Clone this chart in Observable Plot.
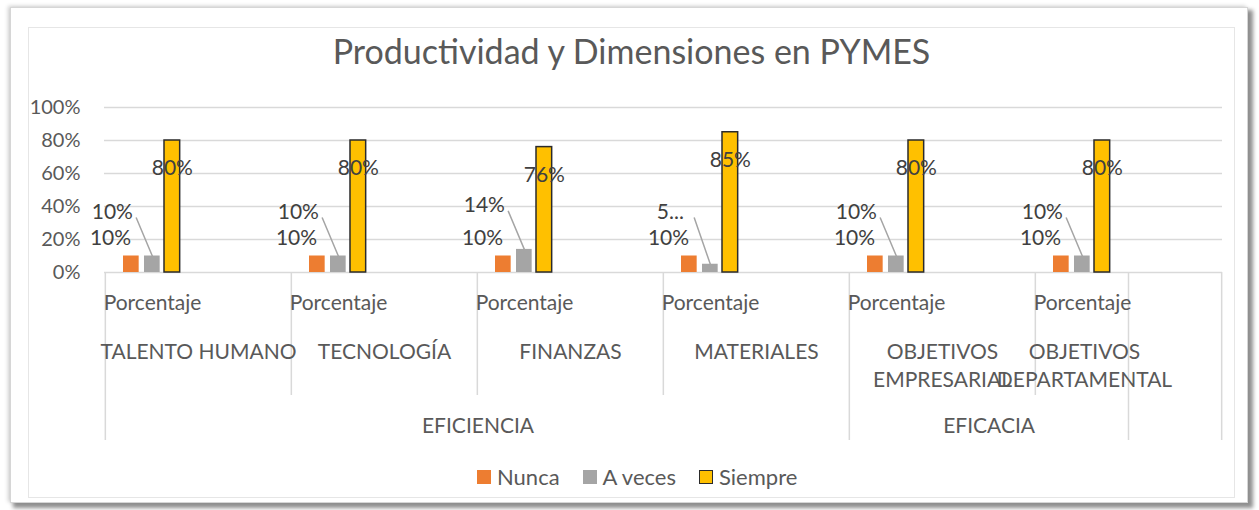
<!DOCTYPE html>
<html><head><meta charset="utf-8">
<script src="https://cdn.jsdelivr.net/npm/d3@7"></script>
<script src="https://cdn.jsdelivr.net/npm/@observablehq/plot@0.6"></script>
<style>
body{margin:0;background:#fff;font-family:Lato,"Open Sans",sans-serif;}
#wrap{position:relative;width:1259px;height:510px;overflow:hidden;background:#fff;}
#outer{position:absolute;left:10px;top:7px;width:1236px;height:494px;border:1px solid #d6d6d6;box-shadow:4px 4px 4px 1px #8f8f8f, -2px -1px 4px #d0d0d0;background:#fff;}
#inner{position:absolute;left:28px;top:27px;width:1205px;height:469px;border:1px solid #e6e6e6;}
#title{position:absolute;top:29px;left:0;width:1263px;text-align:center;font-size:34px;line-height:44px;color:#595959;font-weight:400;}
#chart{position:absolute;top:90px;left:0;}
#legend{position:absolute;top:464px;left:477px;display:flex;align-items:center;font-size:22px;line-height:26px;color:#595959;}
.item{display:flex;align-items:center;margin-right:23px;}
.sw{width:14px;height:14px;margin-right:6px;box-sizing:border-box;}
</style></head>
<body><div id="wrap"><div id="outer"></div><div id="inner"></div><div id="title"></div><div id="chart"></div><div id="legend"></div></div>
<script>
// ---- data ----
const title = "Productividad y Dimensiones en PYMES";
const categories = ["TALENTO HUMANO","TECNOLOGÍA","FINANZAS","MATERIALES","OBJETIVOS EMPRESARIAL","OBJETIVOS DEPARTAMENTAL"];
const categoryLabels = ["TALENTO HUMANO","TECNOLOGÍA","FINANZAS","MATERIALES","OBJETIVOS\nEMPRESARIAL","OBJETIVOS\nDEPARTAMENTAL"];
const dimensions = ["EFICIENCIA","EFICIENCIA","EFICIENCIA","EFICIENCIA","EFICACIA","EFICACIA"];
const subLabel = "Porcentaje";
const series = ["Nunca","A veces","Siempre"];
const nunca   = [0.10,0.10,0.10,0.10,0.10,0.10];
const aVeces  = [0.10,0.10,0.14,0.05,0.10,0.10];
const siempre = [0.80,0.80,0.76,0.85,0.80,0.80];
const aVecesLabels = ["10%","10%","14%","5...","10%","10%"];
const yTicks = [0,0.2,0.4,0.6,0.8,1.0];

// ---- styles ----
const colors = {"Nunca":"#ED7D31","A veces":"#A5A5A5","Siempre":"#FFC000"};
const strokes = {"Nunca":null,"A veces":null,"Siempre":"#2b2b2b"};
const W = 1259, H = 365, mL = 104, mR = 37, mT = 17, mB = 183;
const bw = (W - mL - mR) / categories.length;
const ky = H - mT - mB; // pixels per unit of y
const barLeft = {"Nunca":18,"A veces":39,"Siempre":59}, barW = 16;
const centerOff = s => barLeft[s] + barW/2 - bw/2;
const fmt = d3.format(".0%");
const labelFont = {fontSize:21, fill:"#404040"};
const axisFont = {fontSize:21, fill:"#595959"};
const sepStyle = {tickFormat:()=>"", stroke:"#d9d9d9", strokeWidth:1.5, label:null};
const leaderLift = 38, leaderShift = -16, aVecesLift = 44, aVecesShift = -40;

const values = {"Nunca":nunca,"A veces":aVeces,"Siempre":siempre};
const rows = series.flatMap(s => categories.map((c,i) => ({series:s, category:c, value:values[s][i], i})));
const bySeries = s => rows.filter(r => r.series === s);
// A veces labels sit above the cluster's lower bars (never below the Nunca label)
const aVecesRows = bySeries("A veces").map(d => {
  const base = Math.max(d.value, nunca[d.i]);
  const lift = leaderLift + (base - d.value) * ky;
  return {...d, base, len: Math.hypot(leaderShift, lift), angle: Math.atan2(leaderShift, lift) * 180 / Math.PI};
});

document.getElementById("title").textContent = title;

const barMark = s => Plot.barY(bySeries(s), {x:"category", y:"value", fill:colors[s],
  insetLeft:barLeft[s], insetRight:bw - barLeft[s] - barW,
  stroke: strokes[s], strokeWidth: strokes[s] ? 1.5 : 0});

const catRows = categories.map((c,i)=>({category:c, label:categoryLabels[i], i}));
const lastI = categories.length - 1;
const dimNames = [...new Set(dimensions)];
const dimRows = dimNames.map(d => {
  const idx = dimensions.map((v,i)=>v===d?i:-1).filter(i=>i>=0);
  return {dim:d, category:categories[idx[0]], first:idx[0], last:idx[idx.length-1]};
});
// span of a dimension label in bands; the last one ends at the middle of the last band
const dimMark = d => {
  const end = d.last === lastI ? d.last + 0.5 : d.last + 1;
  const off = ((end - d.first) / 2 - 0.5) * bw;
  return Plot.text([d], {x:"category", text:"dim", frameAnchor:"bottom", dx:off, dy:160, ...axisFont});
};

const chart = Plot.plot({
  width: W, height: H, marginLeft: mL, marginRight: mR, marginTop: mT, marginBottom: mB,
  style:{fontFamily:"Lato, 'Open Sans', sans-serif", overflow:"visible", background:"transparent"},
  x:{domain:categories, padding:0, axis:null},
  y:{domain:[0,1], axis:null},
  length:{type:"identity"},
  marks:[
    Plot.gridY({ticks:yTicks.slice(1), stroke:"#d9d9d9", strokeOpacity:1, strokeWidth:1.5}),
    Plot.axisY({ticks:yTicks, tickFormat:fmt, tickSize:0, tickPadding:24, fontSize:20, fill:"#595959", label:null}),
    // category separators
    Plot.axisX({ticks:categories.filter((c,i)=>i===0 || dimensions[i]!==dimensions[i-1]), tickSize:168, dx:-bw/2, ...sepStyle}),
    Plot.axisX({ticks:categories.filter((c,i)=>i>0 && dimensions[i]===dimensions[i-1]), tickSize:123, dx:-bw/2, ...sepStyle}),
    Plot.axisX({ticks:categories.slice(-1), tickSize:168, dx:0, ...sepStyle}),
    Plot.axisX({ticks:categories.slice(-1), tickSize:168, dx:bw/2, ...sepStyle}),
    Plot.ruleY([0], {stroke:"#d9d9d9", strokeWidth:1.5}),
    ...series.map(barMark),
    // data labels
    Plot.text(bySeries("Siempre"), {x:"category", y:"value", text:d=>fmt(d.value), dx:centerOff("Siempre"), dy:28, ...labelFont}),
    Plot.text(bySeries("Nunca"), {x:"category", y:"value", text:d=>fmt(d.value), dx:-88, dy:-18, ...labelFont}),
    Plot.vector(aVecesRows, {x:"category", y:"value", dx:centerOff("A veces"), anchor:"start", length:"len", rotate:"angle", r:0, stroke:"#a5a5a5", strokeWidth:1.5}),
    Plot.text(aVecesRows, {x:"category", y:"base", text:d=>aVecesLabels[d.i], dx:centerOff("A veces")+aVecesShift, dy:-aVecesLift, ...labelFont}),
    // category axis labels
    Plot.text(catRows, {x:"category", text:()=>subLabel, frameAnchor:"bottom", dx:-46, dy:37, ...axisFont}),
    Plot.text(catRows.filter(d=>d.i < lastI), {x:"category", text:"label", frameAnchor:"bottom", lineAnchor:"top", dy:66, lineHeight:1.35, ...axisFont}),
    Plot.text(catRows.filter(d=>d.i === lastI), {x:"category", text:"label", frameAnchor:"bottom", lineAnchor:"top", dx:-44, dy:66, lineHeight:1.35, ...axisFont}),
    ...dimRows.map(dimMark)
  ]
});
document.getElementById("chart").appendChild(chart);

// legend
const legend = document.getElementById("legend");
series.forEach(s => {
  const item = document.createElement("div"); item.className = "item";
  const sw = document.createElement("div"); sw.className = "sw";
  sw.style.background = colors[s];
  if (strokes[s]) sw.style.border = "1.5px solid " + strokes[s];
  const t = document.createElement("span"); t.textContent = s;
  item.appendChild(sw); item.appendChild(t); legend.appendChild(item);
});
</script>
</body></html>
